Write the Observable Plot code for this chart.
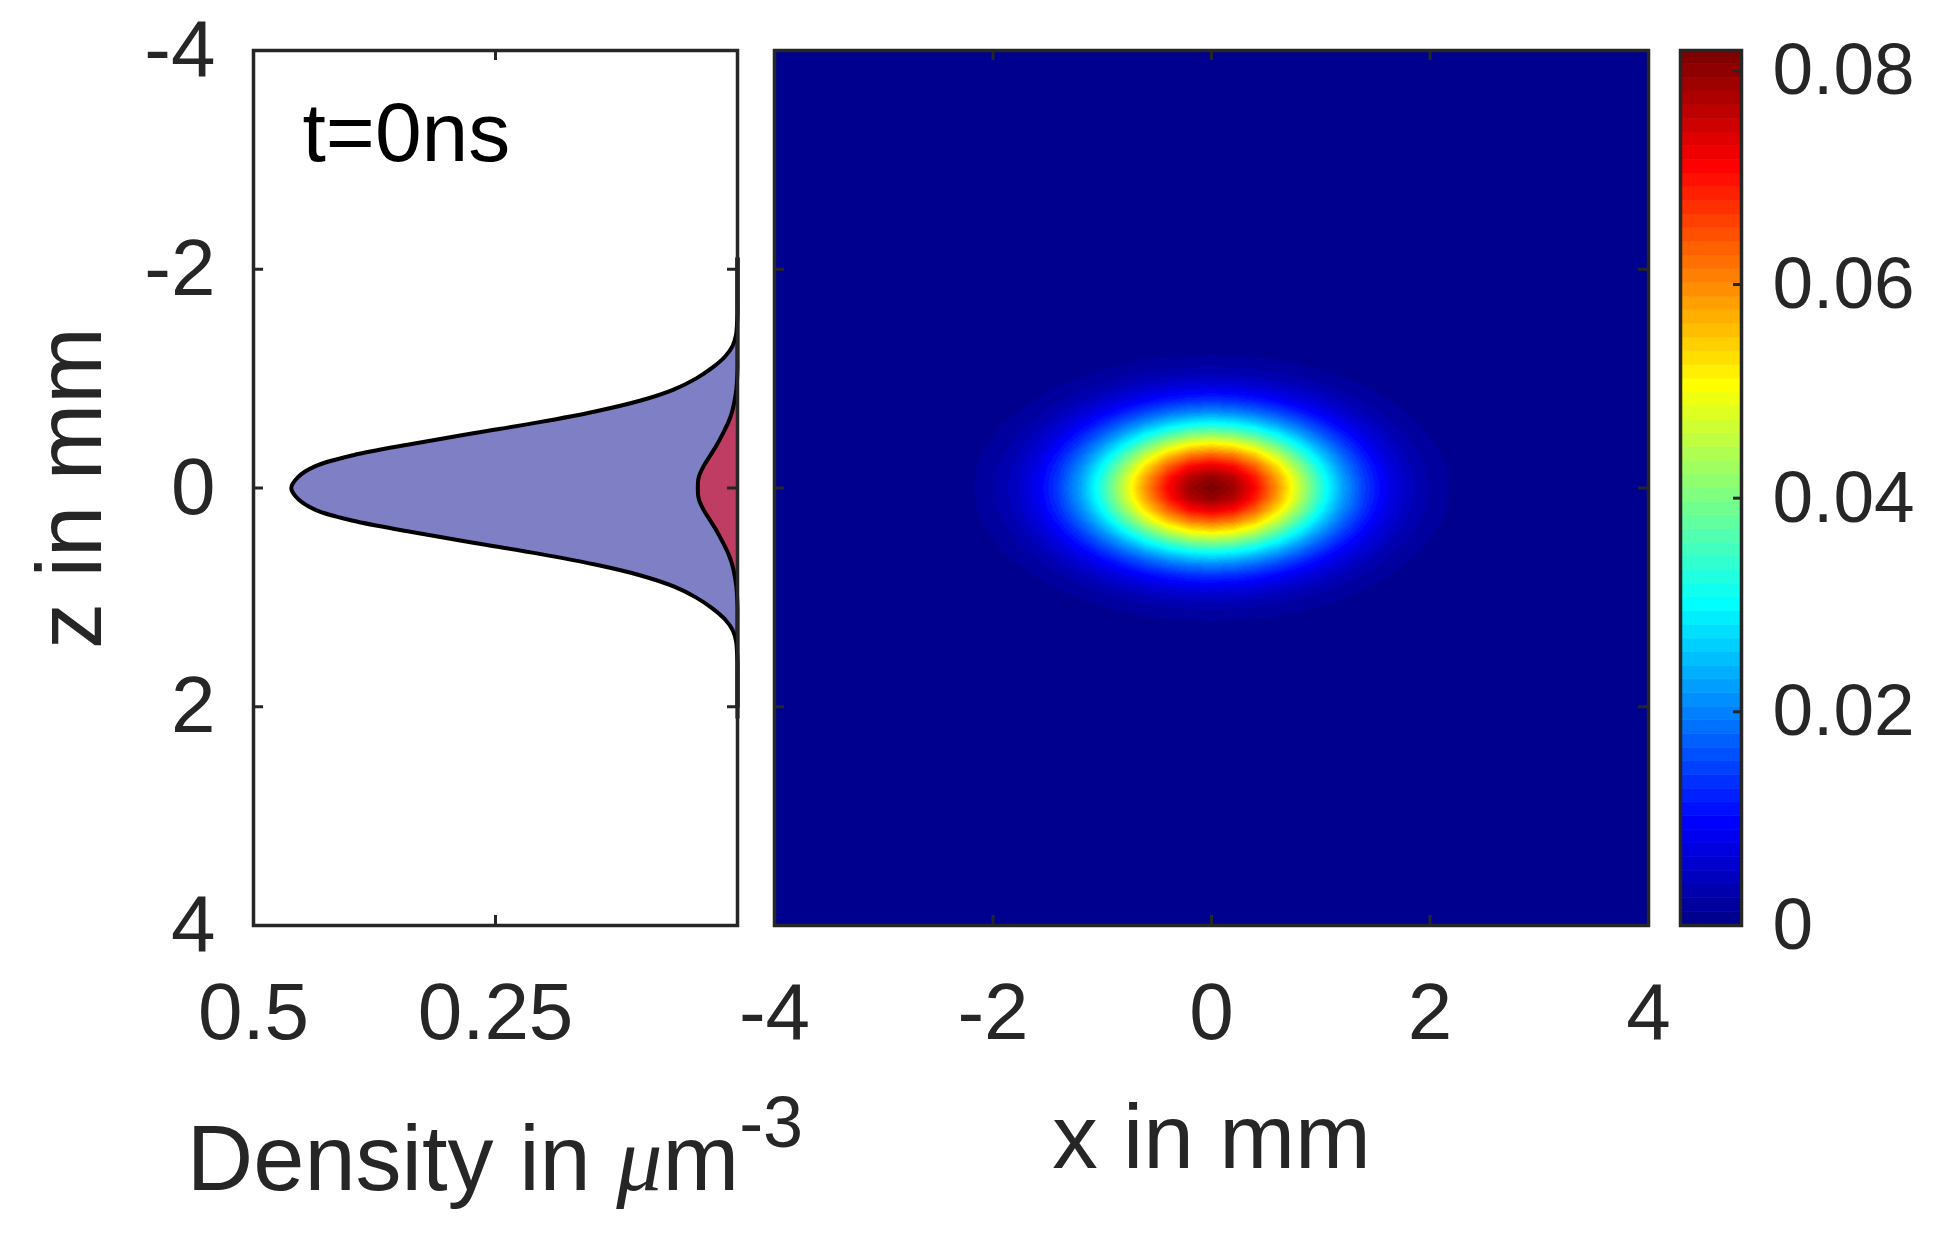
<!DOCTYPE html>
<html>
<head>
<meta charset="utf-8">
<script src="https://cdn.jsdelivr.net/npm/d3@7"></script>
<script src="https://cdn.jsdelivr.net/npm/@observablehq/plot@0.6"></script>
<style>
  html, body { margin: 0; padding: 0; background: #fff; }
  #wrap { position: relative; width: 1938px; height: 1250px; overflow: hidden; background: #fff; }
  #wrap svg { position: absolute; left: 0; top: 0; }
  #dens { position: absolute; left: 0; width: 990px; top: 1112px; text-align: center;
          font-family: "Liberation Sans", Arial, sans-serif; font-size: 92px; line-height: 1; color: #262626; white-space: nowrap; }
  #dens .mu { font-family: "Liberation Serif", "DejaVu Serif", serif; font-style: italic; }
  #dens .sup { font-size: 72px; position: relative; top: -43px; }
</style>
</head>
<body>
<div id="wrap">
  <div id="dens">Density in <span class="mu">μ</span>m<span class="sup">-3</span></div>
</div>
<script>
// ---------------- data ----------------
const zTicks = [-4, -2, 0, 2, 4];
const innerZTicks = [-2, 0, 2];
const heatXTicks = [-4, -2, 0, 2, 4];
const innerXTicks = [-2, 0, 2];
const densityTicks = [0.5, 0.25];
const colorTicks = [0, 0.02, 0.04, 0.06, 0.08];
const timeLabel = "t=0ns";

// 1D density profiles along z (left panel), µm^-3
const profileZ = [-2.1, -2.0, -1.9, -1.8, -1.7, -1.6, -1.5, -1.4, -1.3, -1.2, -1.1, -1.0, -0.9, -0.8, -0.7, -0.6, -0.5, -0.4, -0.3, -0.2, -0.1,
  0, 0.1, 0.2, 0.3, 0.4, 0.5, 0.6, 0.7, 0.8, 0.9, 1.0, 1.1, 1.2, 1.3, 1.4, 1.5, 1.6, 1.7, 1.8, 1.9, 2.0, 2.1];
const blueDensity = [0, 0, 0, 0, 0, 0, 0.0005, 0.0015, 0.005, 0.013, 0.026, 0.043, 0.066, 0.100, 0.147, 0.206, 0.273, 0.338, 0.397, 0.436, 0.454,
  0.461, 0.454, 0.436, 0.397, 0.338, 0.273, 0.206, 0.147, 0.100, 0.066, 0.043, 0.026, 0.013, 0.005, 0.0015, 0.0005, 0, 0, 0, 0, 0, 0];
const redDensity = [0, 0, 0, 0, 0, 0, 0, 0, 0, 0, 0, 0.0004, 0.0012, 0.003, 0.0055, 0.0095, 0.015, 0.021, 0.028, 0.035, 0.040,
  0.041, 0.040, 0.035, 0.028, 0.021, 0.015, 0.0095, 0.0055, 0.003, 0.0012, 0.0004, 0, 0, 0, 0, 0, 0, 0, 0, 0, 0];

// 2D density: cuts through the centre of the cloud (right panel)
const heatXs = [-4, -3, -2.6, -2.4, -2.2, -2.0, -1.8, -1.6, -1.4, -1.2, -1.0, -0.8, -0.6, -0.4, -0.2,
  0, 0.2, 0.4, 0.6, 0.8, 1.0, 1.2, 1.4, 1.6, 1.8, 2.0, 2.2, 2.4, 2.6, 3, 4];
const heatAlongX = [0, 0, 0.0002, 0.0005, 0.0011, 0.0023, 0.0046, 0.0084, 0.0144, 0.0228, 0.0337, 0.0464, 0.0595, 0.0710, 0.0790,
  0.0819, 0.0790, 0.0710, 0.0595, 0.0464, 0.0337, 0.0228, 0.0144, 0.0084, 0.0046, 0.0023, 0.0011, 0.0005, 0.0002, 0, 0];
const heatZs = [-4, -3, -2, -1.6, -1.4, -1.3, -1.2, -1.1, -1.0, -0.9, -0.8, -0.7, -0.6, -0.5, -0.4, -0.3, -0.2, -0.1,
  0, 0.1, 0.2, 0.3, 0.4, 0.5, 0.6, 0.7, 0.8, 0.9, 1.0, 1.1, 1.2, 1.3, 1.4, 1.6, 2, 3, 4];
const heatAlongZ = [0, 0, 0, 0.00005, 0.0003, 0.0007, 0.0014, 0.0027, 0.0048, 0.0083, 0.0134, 0.0204, 0.0295, 0.0403, 0.0520, 0.0635, 0.0731, 0.0796,
  0.0819, 0.0796, 0.0731, 0.0635, 0.0520, 0.0403, 0.0295, 0.0204, 0.0134, 0.0083, 0.0048, 0.0027, 0.0014, 0.0007, 0.0003, 0.00005, 0, 0, 0];
const colorMax = 0.0819;

// ---------------- styling ----------------
const font = '"Liberation Sans", Arial, Helvetica, sans-serif';
const ink = "#262626";
const W = 1938, H = 1250;
const frameTop = 50, frameBottom = 925;
const frameH = frameBottom - frameTop;
const tickLen = 10;
const baseStyle = {fontFamily: font, background: "transparent", maxWidth: "none"};

function jet(m) {
  const n = Math.ceil(m / 4);
  const u = [];
  for (let k = 1; k <= n; k++) u.push(k / n);
  for (let k = 1; k < n; k++) u.push(1);
  for (let k = n; k >= 1; k--) u.push(k / n);
  const off = Math.ceil(n / 2) - (m % 4 === 1 ? 1 : 0);
  const L = u.length;
  const J = Array.from({length: m}, () => [0, 0, 0]);
  const g = d3.range(1, L + 1).map(k => off + k).filter(v => v <= m);
  const r = d3.range(1, L + 1).map(k => off + k + n).filter(v => v <= m);
  const b = d3.range(1, L + 1).map(k => off + k - n).filter(v => v >= 1);
  r.forEach((idx, k) => { J[idx - 1][0] = u[k]; });
  g.forEach((idx, k) => { J[idx - 1][1] = u[k]; });
  b.forEach((idx, k) => { J[idx - 1][2] = u[L - b.length + k]; });
  return J.map(([R, G, B]) => d3.rgb(Math.round(R * 255), Math.round(G * 255), Math.round(B * 255)).formatHex());
}
const nColors = 64;
const jetColors = jet(nColors);
const thresholds = d3.range(1, nColors).map(k => k * colorMax / nColors);
const colorScale = {type: "threshold", domain: thresholds, range: jetColors};

const wrap = document.getElementById("wrap");

// ---------------- left panel: 1D densities ----------------
const L1 = 253, R1 = 737, W1 = R1 - L1;
const profile = profileZ.map((z, i) => ({z, blue: blueDensity[i], red: redDensity[i]}));
const p1 = Plot.plot({
  width: W, height: H,
  marginLeft: L1, marginRight: W - R1, marginTop: frameTop, marginBottom: H - frameBottom,
  style: baseStyle,
  x: {domain: [0.5, 0], axis: null},
  y: {domain: [-4, 4], reverse: true, axis: null},
  marks: [
    Plot.areaX(profile, {y: "z", x1: 0, x2: "blue", fill: "#7f7fc5", curve: "catmull-rom"}),
    Plot.areaX(profile, {y: "z", x1: 0, x2: "red", fill: "#bf3d62", curve: "catmull-rom"}),
    Plot.lineX(profile, {y: "z", x: "blue", stroke: "black", strokeWidth: 4, curve: "catmull-rom"}),
    Plot.lineX(profile, {y: "z", x: "red", stroke: "black", strokeWidth: 4, curve: "catmull-rom"}),
    Plot.tickY(innerZTicks, {y: d => d, insetRight: W1 - tickLen, stroke: ink, strokeWidth: 3}),
    Plot.tickY(innerZTicks, {y: d => d, insetLeft: W1 - tickLen, stroke: ink, strokeWidth: 3}),
    Plot.tickX([densityTicks[1]], {x: d => d, insetBottom: frameH - tickLen, stroke: ink, strokeWidth: 3}),
    Plot.tickX([densityTicks[1]], {x: d => d, insetTop: frameH - tickLen, stroke: ink, strokeWidth: 3}),
    Plot.frame({stroke: ink, strokeWidth: 3.5}),
    Plot.axisY(zTicks, {anchor: "left", tickSize: 0, tickPadding: 38, fontSize: 80, color: ink, tickFormat: d => String(d), label: null}),
    Plot.axisX(densityTicks, {anchor: "bottom", tickSize: 0, tickPadding: 57, fontSize: 80, color: ink, tickFormat: d => String(d), label: null}),
    Plot.text([timeLabel], {text: d => d, frameAnchor: "top-left", dx: 49, dy: 110, textAnchor: "start", lineAnchor: "bottom", fontSize: 84, fill: "black"}),
    Plot.text(["z in mm"], {text: d => d, frameAnchor: "left", dx: 100 - L1, rotate: -90, textAnchor: "middle", lineAnchor: "bottom", fontSize: 92, fill: ink})
  ]
});
wrap.appendChild(p1);

// ---------------- right panel: 2D density ----------------
const L2 = 774, R2 = 1648, W2 = R2 - L2;
const grid = [];
heatXs.forEach((x, i) => heatZs.forEach((z, j) => grid.push({x, z, v: heatAlongX[i] * heatAlongZ[j] / colorMax})));
const p2 = Plot.plot({
  width: W, height: H,
  marginLeft: L2, marginRight: W - R2, marginTop: frameTop, marginBottom: H - frameBottom,
  style: baseStyle,
  x: {domain: [-4, 4], axis: null},
  y: {domain: [-4, 4], reverse: true, axis: null},
  color: colorScale,
  marks: [
    Plot.raster(grid, {x: "x", y: "z", fill: "v", interpolate: "barycentric", x1: -4, x2: 4, y1: -4, y2: 4, pixelSize: 1}),
    Plot.tickX(innerXTicks, {x: d => d, insetBottom: frameH - tickLen, stroke: ink, strokeWidth: 3}),
    Plot.tickX(innerXTicks, {x: d => d, insetTop: frameH - tickLen, stroke: ink, strokeWidth: 3}),
    Plot.tickY(innerZTicks, {y: d => d, insetRight: W2 - tickLen, stroke: ink, strokeWidth: 3}),
    Plot.tickY(innerZTicks, {y: d => d, insetLeft: W2 - tickLen, stroke: ink, strokeWidth: 3}),
    Plot.frame({stroke: ink, strokeWidth: 3.5}),
    Plot.axisX(heatXTicks, {anchor: "bottom", tickSize: 0, tickPadding: 57, fontSize: 80, color: ink, tickFormat: d => String(d), label: null}),
    Plot.text(["x in mm"], {text: d => d, frameAnchor: "bottom", dy: 242, lineAnchor: "bottom", fontSize: 91, fill: ink})
  ]
});
wrap.appendChild(p2);

// ---------------- colorbar ----------------
const L3 = 1680, R3 = 1741, W3 = R3 - L3;
const bands = jetColors.map((c, i) => ({lo: i * colorMax / nColors, hi: (i + 1) * colorMax / nColors}));
const p3 = Plot.plot({
  width: W, height: H,
  marginLeft: L3, marginRight: W - R3, marginTop: frameTop, marginBottom: H - frameBottom,
  style: baseStyle,
  x: {axis: null},
  y: {domain: [0, colorMax], axis: null},
  color: colorScale,
  marks: [
    Plot.rect(bands, {y1: "lo", y2: "hi", fill: d => (d.lo + d.hi) / 2, stroke: d => (d.lo + d.hi) / 2, strokeWidth: 0.6}),
    Plot.tickY(colorTicks.slice(1), {y: d => d, insetLeft: W3 - 8, stroke: ink, strokeWidth: 3}),
    Plot.frame({stroke: ink, strokeWidth: 3.5}),
    Plot.axisY(colorTicks, {anchor: "right", tickSize: 0, tickPadding: 31, fontSize: 73, color: ink,
      tickFormat: d => d === 0 ? "0" : d.toFixed(2), label: null})
  ]
});
wrap.appendChild(p3);
</script>
</body>
</html>
